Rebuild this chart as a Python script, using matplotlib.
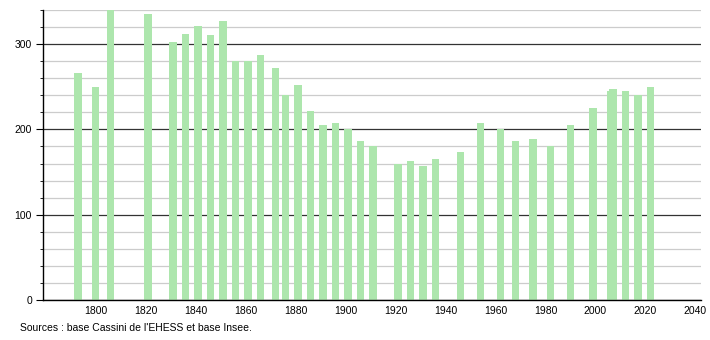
import matplotlib
matplotlib.use('Agg')
import matplotlib.pyplot as plt
from matplotlib.ticker import MultipleLocator

# census years and population
years = [1793, 1800, 1806, 1821, 1831, 1836, 1841, 1846, 1851, 1856,
         1861, 1866, 1872, 1876, 1881, 1886, 1891, 1896, 1901, 1906,
         1911, 1921, 1926, 1931, 1936, 1946, 1954, 1962, 1968, 1975,
         1982, 1990, 1999, 2006, 2007, 2012, 2017, 2022]
population = [266, 250, 345, 335, 302, 312, 321, 311, 327, 280,
              280, 287, 272, 240, 252, 222, 205, 208, 201, 187,
              181, 160, 163, 157, 165, 173, 207, 200, 187, 189,
              180, 205, 225, 245, 247, 245, 240, 250]

x_ticks = list(range(1800, 2041, 20))
source_text = "Sources : base Cassini de l'EHESS et base Insee."

plt.rcParams['font.family'] = ['Liberation Sans', 'DejaVu Sans']

fig = plt.figure(figsize=(7.1, 3.4), dpi=100)
ax = fig.add_axes([43 / 710, 40 / 340, 658 / 710, 290 / 340])

ax.bar(years, population, width=3.1, color='#ade6ad', zorder=2)

ax.set_xlim(1779, 2042.2)
ax.set_ylim(0, 340)
ax.set_xticks(x_ticks)
ax.yaxis.set_major_locator(MultipleLocator(100))
ax.yaxis.set_minor_locator(MultipleLocator(20))

ax.grid(axis='y', which='major', color='#333333', linewidth=0.9, zorder=1)
ax.grid(axis='y', which='minor', color='#cccccc', linewidth=0.9, zorder=1)

for side in ['top', 'right']:
    ax.spines[side].set_visible(False)
ax.spines['left'].set_linewidth(1.0)
ax.spines['bottom'].set_linewidth(1.0)

ax.tick_params(axis='x', length=0, labelsize=7.5, pad=4)
ax.tick_params(axis='y', which='major', length=5, labelsize=7.5, pad=3)
ax.tick_params(axis='y', which='minor', length=2.5)

fig.text(20 / 710, 1 - 328 / 340, source_text, fontsize=7.5, va='center')

fig.savefig('out.png', dpi=100)
